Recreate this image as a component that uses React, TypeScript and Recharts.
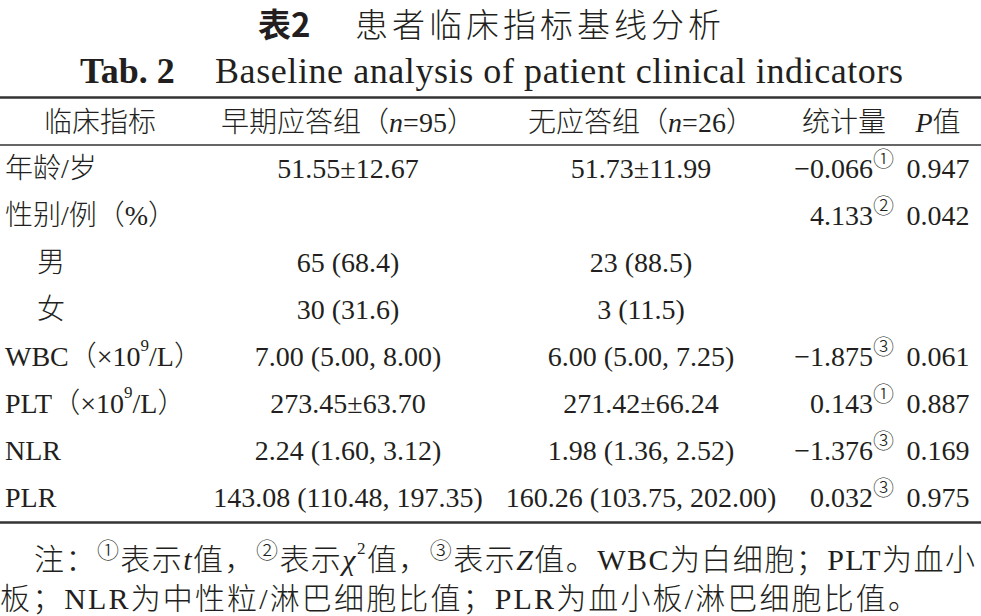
import { ScatterChart, Scatter, XAxis, YAxis, Customized } from "recharts";

// table rows
const rowLabels = ["年龄/岁", "性别/例（%）", "男", "女", "WBC（×10⁹/L）", "PLT（×10⁹/L）", "NLR", "PLR"];
const indentedRows = ["男", "女"];
const earlyGroup = ["51.55±12.67", "", "65 (68.4)", "30 (31.6)", "7.00 (5.00, 8.00)", "273.45±63.70", "2.24 (1.60, 3.12)", "143.08 (110.48, 197.35)"];
const noResponseGroup = ["51.73±11.99", "", "23 (88.5)", "3 (11.5)", "6.00 (5.00, 7.25)", "271.42±66.24", "1.98 (1.36, 2.52)", "160.26 (103.75, 202.00)"];
const statValues = ["−0.066", "4.133", "", "", "−1.875", "0.143", "−1.376", "0.032"];
const statMarks = ["①", "②", "", "", "③", "①", "③", "③"];
const pValues = ["0.947", "0.042", "", "", "0.061", "0.887", "0.169", "0.975"];

const groupNames = ["早期应答组", "无应答组"];
const groupSizes = [95, 26];

const W = 981;
const H = 616;
const INK = "#231f20";
const LATIN = "'Liberation Serif', 'Times New Roman', serif";
const CJK = "'Noto Sans CJK SC', sans-serif";
const MIXED = "'Liberation Serif', 'Noto Sans CJK SC', serif";

// column anchors on the 0..W x axis
const COL_LABEL = 5;
const COL_INDENT = 37;
const COL_EARLY = 348;
const COL_NONE = 641;
const COL_STAT = 894;
const COL_P = 938;

const labelData = rowLabels.map((row) => ({
  row,
  x: indentedRows.includes(row) ? COL_INDENT : COL_LABEL,
  text: row,
}));
const earlyData = rowLabels.map((row, i) => ({ row, x: COL_EARLY, text: earlyGroup[i] }));
const noneData = rowLabels.map((row, i) => ({ row, x: COL_NONE, text: noResponseGroup[i] }));
const statData = rowLabels.map((row, i) => ({ row, x: COL_STAT, text: statValues[i], mark: statMarks[i] }));
const pData = rowLabels.map((row, i) => ({ row, x: COL_P, text: pValues[i] }));

// splits "10⁹" into a raised small 9
function withSup(s: string) {
  const parts = s.split("⁹");
  if (parts.length === 1) return s;
  return [
    <tspan key="a">{parts[0]}</tspan>,
    <tspan key="b" fontSize={17} dy={-11}>9</tspan>,
    <tspan key="c" dy={11}>{parts[1]}</tspan>,
  ];
}

function cellShape(anchor: "start" | "middle" | "end") {
  return (props: any) => {
    const { cx, cy, payload } = props;
    if (!payload || !payload.text) return <g />;
    return (
      <text
        x={cx}
        y={cy}
        textAnchor={anchor}
        dominantBaseline="central"
        fontFamily={MIXED}
        fontSize={28}
        fontWeight={300}
        fill={INK}
      >
        {withSup(payload.text)}
        {payload.mark ? (
          <tspan fontSize={21} dy={-9}>
            {payload.mark}
          </tspan>
        ) : null}
      </text>
    );
  };
}

const Decorations = () => (
  <g fill={INK}>
    <text x={258} y={23} fontFamily={CJK} fontWeight={700} fontSize={33} dominantBaseline="central">
      表2
    </text>
    <text x={355} y={23} fontFamily={CJK} fontWeight={300} fontSize={33} letterSpacing={4} dominantBaseline="central">
      患者临床指标基线分析
    </text>
    <text x={80} y={71} fontFamily={LATIN} fontWeight={700} fontSize={36} dominantBaseline="central">
      Tab. 2
    </text>
    <text x={215} y={71} fontFamily={LATIN} fontSize={36} textLength={688} lengthAdjust="spacing" dominantBaseline="central">
      Baseline analysis of patient clinical indicators
    </text>

    <line x1={0} x2={W} y1={97.5} y2={97.5} stroke="#333" strokeWidth={2.5} />
    <line x1={0} x2={W} y1={145} y2={145} stroke="#333" strokeWidth={1.5} />
    <line x1={0} x2={W} y1={522.5} y2={522.5} stroke="#333" strokeWidth={2.5} />

    <g fontFamily={MIXED} fontSize={28} fontWeight={300} dominantBaseline="central">
      <text x={100} y={122} textAnchor="middle">临床指标</text>
      <text x={COL_EARLY} y={122} textAnchor="middle">
        {groupNames[0]}（<tspan fontStyle="italic">n</tspan>={groupSizes[0]}）
      </text>
      <text x={COL_NONE} y={122} textAnchor="middle">
        {groupNames[1]}（<tspan fontStyle="italic">n</tspan>={groupSizes[1]}）
      </text>
      <text x={844} y={122} textAnchor="middle">统计量</text>
      <text x={COL_P} y={122} textAnchor="middle">
        <tspan fontStyle="italic">P</tspan>值
      </text>
    </g>

    <g fontFamily={MIXED} fontSize={30} fontWeight={300} dominantBaseline="central">
      <text x={34} y={559} textLength={941} lengthAdjust="spacing">
        注：
        <tspan fontSize={22} dy={-9}>①</tspan>
        <tspan dy={9}>表示</tspan>
        <tspan fontStyle="italic">t</tspan>
        值，
        <tspan fontSize={22} dy={-9}>②</tspan>
        <tspan dy={9}>表示</tspan>
        <tspan fontStyle="italic">χ</tspan>
        <tspan fontSize={17} dy={-11}>2</tspan>
        <tspan dy={11}>值，</tspan>
        <tspan fontSize={22} dy={-9}>③</tspan>
        <tspan dy={9}>表示</tspan>
        <tspan fontStyle="italic">Z</tspan>
        值。WBC为白细胞；PLT为血小
      </text>
      <text x={0} y={598} textLength={918} lengthAdjust="spacing">
        板；NLR为中性粒/淋巴细胞比值；PLR为血小板/淋巴细胞比值。
      </text>
    </g>
  </g>
);

export default function App() {
  return (
    <div style={{ position: "absolute", left: 0, top: 0, width: W, height: H, background: "#fff" }}>
      <ScatterChart width={W} height={H} margin={{ top: 144.5, right: 0, bottom: 95.5, left: 0 }}>
        <XAxis type="number" dataKey="x" domain={[0, W]} hide allowDataOverflow />
        <YAxis type="category" dataKey="row" reversed hide width={0} />
        <Scatter data={labelData} shape={cellShape("start")} isAnimationActive={false} />
        <Scatter data={earlyData} shape={cellShape("middle")} isAnimationActive={false} />
        <Scatter data={noneData} shape={cellShape("middle")} isAnimationActive={false} />
        <Scatter data={statData} shape={cellShape("end")} isAnimationActive={false} />
        <Scatter data={pData} shape={cellShape("middle")} isAnimationActive={false} />
        <Customized component={Decorations} />
      </ScatterChart>
    </div>
  );
}
